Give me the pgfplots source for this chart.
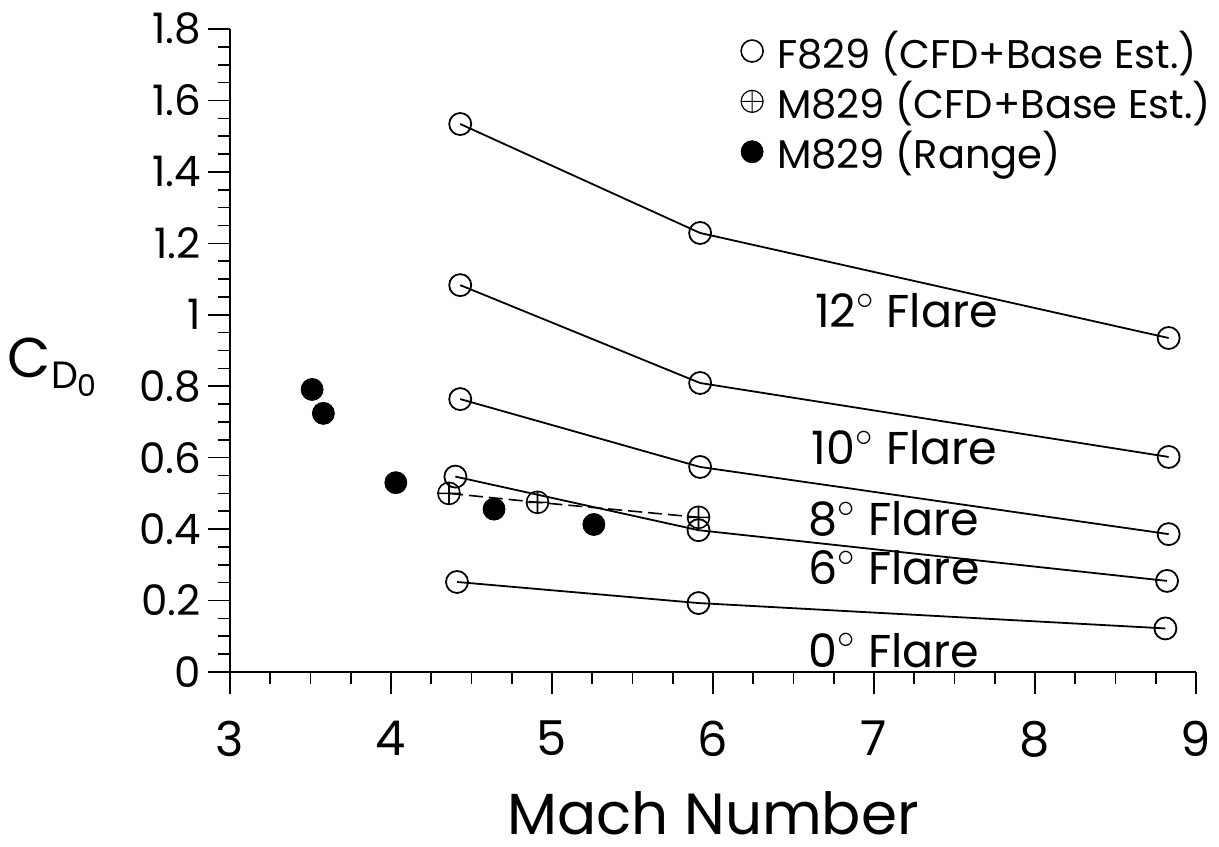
\documentclass[border=0pt]{standalone}
\usepackage{fontspec}
\setmainfont{Poppins}
\usepackage{pgfplots}
\pgfplotsset{compat=1.18}
\usetikzlibrary{calc}

\newcommand{\dg}{\ensuremath{^{\circ}}}

\begin{document}
\begin{tikzpicture}
\begin{axis}[
    name=ax,
    scale only axis,
    width=483pt, height=321.5pt,
    xmin=3, xmax=9, ymin=0, ymax=1.8,
    axis lines=left,
    axis line style={-, line width=0.9pt},
    tick align=outside,
    tick style={black, line width=0.8pt},
    major tick length=11pt,
    minor tick length=6pt,
    xtick={3,4,...,9},
    ytick={0,0.2,...,1.8},
    minor x tick num=3,
    minor y tick num=3,
    /pgf/number format/assume math mode=true,
    yticklabel style={font=\fontsize{21}{24}\selectfont, /pgf/number format/fixed, /pgf/number format/precision=1},
    xticklabel style={font=\fontsize{24}{28}\selectfont, yshift=-10pt},
    xlabel={Mach Number},
    xlabel style={font=\fontsize{29}{34}\selectfont, inner sep=0pt, yshift=-13.5pt},
    ylabel={C\raisebox{-0.35ex}{\fontsize{19}{20}\selectfont D\raisebox{-0.35ex}{\fontsize{15}{16}\selectfont 0}}},
    ylabel style={font=\fontsize{28}{30}\selectfont, rotate=-90, at={(rel axis cs:-0.184,0.474)}, anchor=center},
    legend style={at={(rel axis cs:1.02,1.004)}, anchor=north east, draw=none, fill=none,
        font=\fontsize{20}{24}\selectfont, row sep=1pt, inner sep=0pt,
        legend cell align=left,
        /tikz/every odd column/.append style={column sep=5pt}},
    legend image code/.code={\draw[#1] plot coordinates {(0.2cm,0cm)};},
]

% F829 (CFD+Base Est.)
\addplot[black, line width=0.9pt, mark=o, mark size=5.5pt, forget plot] coordinates {
    (4.43,1.534) (5.92,1.229) (8.83,0.935)
};
\addplot[black, line width=0.9pt, mark=o, mark size=5.5pt, forget plot] coordinates {
    (4.43,1.083) (5.92,0.809) (8.83,0.602)
};
\addplot[black, line width=0.9pt, mark=o, mark size=5.5pt, forget plot] coordinates {
    (4.43,0.764) (5.92,0.574) (8.83,0.386)
};
\addplot[black, line width=0.9pt, mark=o, mark size=5.5pt, forget plot] coordinates {
    (4.40,0.547) (5.91,0.397) (8.82,0.255)
};
\addplot[black, line width=0.9pt, mark=o, mark size=5.5pt, forget plot] coordinates {
    (4.41,0.252) (5.91,0.193) (8.81,0.122)
};

% M829 (CFD+Base Est.)
\addplot[black, line width=0.8pt, dash pattern=on 7pt off 3pt, mark=oplus, mark size=5.5pt, mark options={solid}, forget plot] coordinates {
    (4.36,0.500) (4.91,0.475) (5.91,0.433)
};

% M829 (Range)
\addplot[black, only marks, mark=*, mark size=5.5pt, forget plot] coordinates {
    (3.51,0.791) (3.58,0.724) (4.03,0.530) (4.64,0.456) (5.26,0.413)
};

\addlegendimage{black, only marks, mark=o, mark size=5.5pt, line width=0.8pt}
\addlegendentry{F829 (CFD+Base Est.)}
\addlegendimage{black, only marks, mark=oplus, mark size=5.5pt, line width=0.6pt}
\addlegendentry{M829 (CFD+Base Est.)}
\addlegendimage{black, only marks, mark=*, mark size=5.5pt}
\addlegendentry{M829 (Range)}

\node[anchor=base west, font=\fontsize{23}{26}\selectfont] at (axis cs:6.59,0.963) {12\dg\ Flare};
\node[anchor=base west, font=\fontsize{23}{26}\selectfont] at (axis cs:6.57,0.580) {10\dg\ Flare};
\node[anchor=base west, font=\fontsize{23}{26}\selectfont] at (axis cs:6.55,0.383) {8\dg\ Flare};
\node[anchor=base west, font=\fontsize{23}{26}\selectfont] at (axis cs:6.55,0.244) {6\dg\ Flare};
\node[anchor=base west, font=\fontsize{23}{26}\selectfont] at (axis cs:6.55,0.014) {0\dg\ Flare};
\end{axis}
\pgfresetboundingbox
\path ($(ax.south west)+(-115pt,-87pt)$) rectangle ($(ax.south west)+(494.5pt,336pt)$);
\end{tikzpicture}
\end{document}
